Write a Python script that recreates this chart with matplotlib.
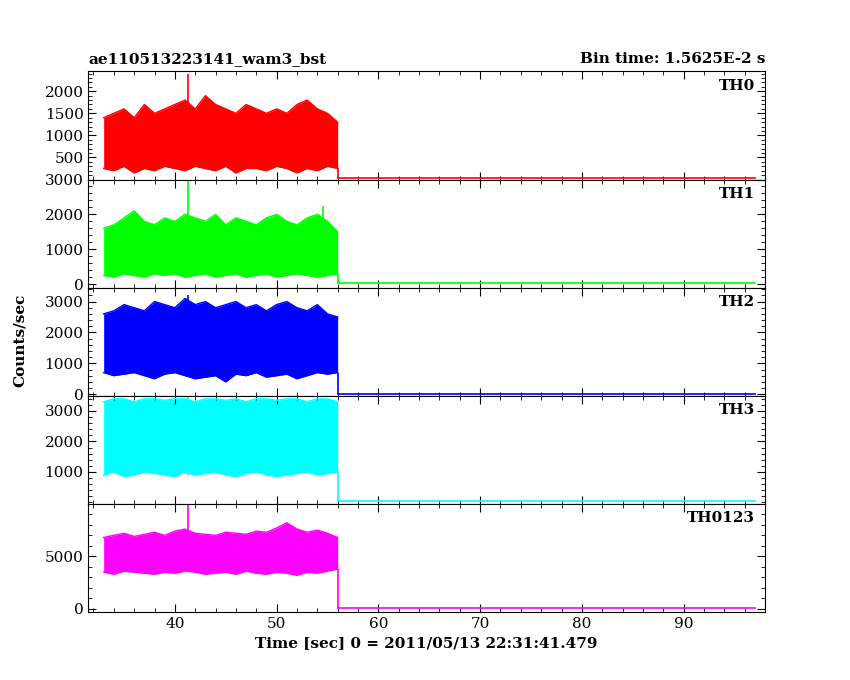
import matplotlib
matplotlib.use("Agg")
import matplotlib.pyplot as plt
from matplotlib.ticker import AutoMinorLocator

# envelope of the burst part, read every 1 s from t=33 to t=56
t_env = [33, 34, 35, 36, 37, 38, 39, 40, 41, 42, 43, 44, 45, 46, 47, 48, 49, 50, 51, 52, 53, 54, 55, 56]
th0_lo = [250, 200, 300, 150, 250, 200, 300, 250, 200, 300, 250, 200, 300, 150, 250, 250, 200, 300, 250, 150, 250, 200, 300, 250]
th0_hi = [1400, 1500, 1600, 1400, 1700, 1500, 1600, 1700, 1800, 1600, 1900, 1700, 1600, 1500, 1700, 1600, 1500, 1600, 1500, 1700, 1800, 1600, 1500, 1300]
th1_lo = [250, 200, 300, 250, 200, 300, 250, 300, 200, 250, 300, 200, 250, 300, 200, 250, 300, 200, 250, 300, 250, 200, 250, 300]
th1_hi = [1600, 1700, 1900, 2100, 1800, 1700, 1900, 1800, 2000, 1900, 1800, 2000, 1700, 1900, 1800, 1700, 1900, 2000, 1800, 1700, 1900, 2000, 1800, 1500]
th2_lo = [700, 600, 650, 700, 600, 500, 650, 700, 600, 500, 550, 600, 400, 650, 600, 700, 550, 600, 650, 500, 600, 700, 650, 700]
th2_hi = [2600, 2700, 2900, 2800, 2700, 3000, 2900, 2800, 3100, 2900, 3000, 2800, 2900, 3000, 2800, 2900, 2700, 2900, 3000, 2800, 2700, 2900, 2600, 2500]
th3_lo = [900, 1000, 850, 900, 1000, 950, 900, 850, 1000, 900, 950, 1000, 900, 850, 950, 1000, 900, 850, 900, 950, 1000, 900, 950, 1000]
th3_hi = [3300, 3400, 3400, 3300, 3400, 3400, 3350, 3400, 3400, 3300, 3400, 3400, 3350, 3400, 3300, 3400, 3400, 3350, 3400, 3400, 3300, 3400, 3400, 3300]
all_lo = [3500, 3300, 3600, 3500, 3400, 3300, 3500, 3400, 3600, 3500, 3300, 3400, 3500, 3300, 3600, 3400, 3300, 3500, 3400, 3200, 3500, 3400, 3600, 3800]
all_hi = [6800, 7000, 7200, 6900, 7100, 7300, 7000, 7400, 7600, 7200, 7100, 7000, 7300, 7200, 7100, 7400, 7300, 7700, 8200, 7600, 7300, 7500, 7200, 6800]

# isolated spikes
th0_spk = [2400]
th1_spk = [2950, 2250]
th2_spk = [3200]
th3_spk = [3450]
all_spk = [10000]

# flat part after the burst
t_after = [56, 97]
after_val = [30, 30, 10, 40, 80]

panels = [
    ("TH0", th0_lo, th0_hi, [41.3], th0_spk, after_val[0], "#ff0000", (0, 2450), [500, 1000, 1500, 2000]),
    ("TH1", th1_lo, th1_hi, [41.3, 54.6], th1_spk, after_val[1], "#00ff00", (-100, 3000), [0, 1000, 2000, 3000]),
    ("TH2", th2_lo, th2_hi, [41.3], th2_spk, after_val[2], "#0000ff", (-50, 3450), [0, 1000, 2000, 3000]),
    ("TH3", th3_lo, th3_hi, [41.3], th3_spk, after_val[3], "#00ffff", (-50, 3500), [1000, 2000, 3000]),
    ("TH0123", all_lo, all_hi, [41.3], all_spk, after_val[4], "#ff00ff", (-300, 10000), [0, 5000]),
]

plt.rcParams["font.family"] = "DejaVu Serif"
plt.rcParams["font.size"] = 11
fig, axes = plt.subplots(5, 1, figsize=(8.5, 6.8), dpi=100, sharex=True)
fig.subplots_adjust(left=0.104, right=0.9, top=0.895, bottom=0.1, hspace=0)

for ax, (name, lo, hi, st, sv, av, col, yl, yt) in zip(axes, panels):
    ax.fill_between(t_env, lo, hi, color=col, lw=0)
    ax.plot(t_env, hi, color=col, lw=1)
    ax.plot(t_env, lo, color=col, lw=1)
    ax.vlines(st, lo[0], sv, color=col, lw=1.2)
    ax.vlines(t_after[0], av, lo[-1], color=col, lw=1.2)
    ax.plot(t_after, [av, av], color=col, lw=1.2)
    ax.set_ylim(*yl)
    ax.set_yticks(yt)
    ax.set_xlim(31.5, 98)
    ax.xaxis.set_minor_locator(AutoMinorLocator(5))
    ax.yaxis.set_minor_locator(AutoMinorLocator(5))
    ax.tick_params(which="both", direction="in", top=True, right=True)
    ax.tick_params(which="major", length=6)
    ax.tick_params(which="minor", length=3)
    ax.text(0.985, 0.93, name, transform=ax.transAxes, ha="right", va="top", fontweight="bold")

axes[0].set_title("ae110513223141_wam3_bst", loc="left", fontsize=11, fontweight="bold")
axes[0].set_title("Bin time: 1.5625E-2 s", loc="right", fontsize=11, fontweight="bold")
axes[-1].set_xticks([40, 50, 60, 70, 80, 90])
axes[-1].set_xlabel("Time [sec] 0 = 2011/05/13 22:31:41.479", fontweight="bold")
fig.text(0.015, 0.5, "Counts/sec", rotation=90, va="center", fontweight="bold")

fig.savefig("out.png")
